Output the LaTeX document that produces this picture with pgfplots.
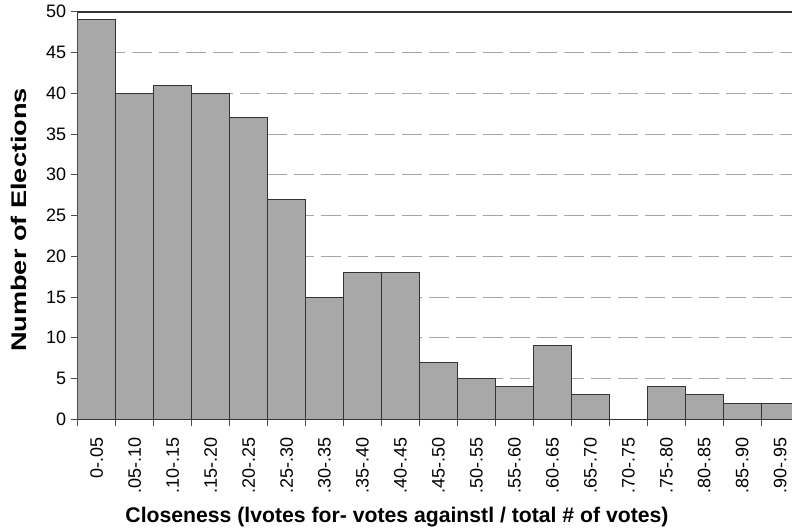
\documentclass[border=0pt]{standalone}
\usepackage{pgfplots}
\pgfplotsset{compat=1.18}
\usepackage{fontspec}
\setmainfont{Liberation Sans}
\definecolor{barfill}{gray}{0.66}
\definecolor{barline}{gray}{0.2}
\begin{document}
\begin{tikzpicture}[x=1pt,y=1pt]
\useasboundingbox (0,0) rectangle (792,531);
\begin{axis}[
  at={(77.7pt,111.7pt)}, anchor=south west,
  scale only axis, width=714.3pt, height=407.6pt,
  xmin=-0.5, xmax=18.31, ymin=0, ymax=50,
  axis x line*=bottom, axis y line*=left,
  axis line style={barline, line width=1pt},
  /pgf/number format/assume math mode=true,
  ytick={0,5,...,50},
  extra y ticks={50}, extra y tick labels={},
  extra y tick style={grid style={solid, barline, line width=1.6pt}},
  ymajorgrids,
  grid style={gray!70, dash pattern=on 20pt off 7pt, line width=0.8pt},
  xtick={0,...,18},
  xticklabels={0-.05,.05-.10,.10-.15,.15-.20,.20-.25,.25-.30,.30-.35,.35-.40,.40-.45,.45-.50,.50-.55,.55-.60,.60-.65,.65-.70,.70-.75,.75-.80,.80-.85,.85-.90,.90-.95},
  major x tick style={draw=none},
  minor xtick={-0.5,0.5,...,18.5},
  tick align=outside,
  major tick length=7pt, minor tick length=7pt,
  tick style={gray!60!black, line width=0.8pt},
  tick label style={font=\fontsize{18}{20}\selectfont},
  xticklabel style={rotate=90, anchor=east, xshift=-8pt},
  yticklabel style={xshift=-1pt},
  xlabel={Closeness (lvotes for- votes againstl / total \# of votes)},
  ylabel={Number of Elections},
  every axis x label/.style={at={(axis description cs:0.447,-0.252)}, anchor=base, font=\bfseries\fontsize{21.2}{24}\selectfont},
  every axis y label/.style={at={(axis description cs:-0.0714,0.489)}, rotate=90, xscale=1.28, anchor=base, font=\bfseries\fontsize{21.2}{24}\selectfont},
]
\addplot[ybar, bar width=1, fill=barfill, draw=barline, line width=1pt] coordinates {
(0,49) (1,40) (2,41) (3,40) (4,37) (5,27) (6,15) (7,18) (8,18) (9,7)
(10,5) (11,4) (12,9) (13,3) (14,0) (15,4) (16,3) (17,2) (18,2)
};
\end{axis}
\end{tikzpicture}
\end{document}
